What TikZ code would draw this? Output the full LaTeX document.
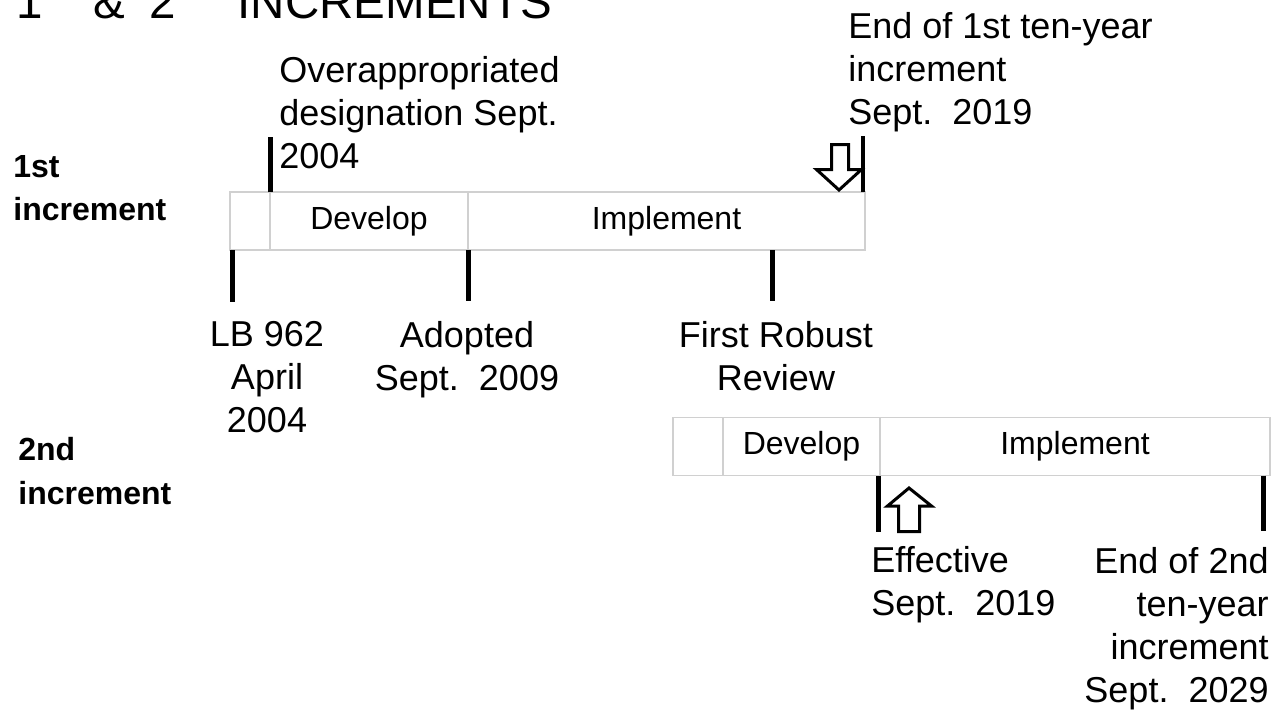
\documentclass[tikz,border=0pt]{standalone}
\usepackage{fontspec}
\setmainfont{Liberation Sans}
\usetikzlibrary{positioning}
\definecolor{boxgray}{RGB}{208,208,208}

\tikzset{
  phase/.style={draw=boxgray, line width=0.75pt, minimum height=29pt, inner sep=0pt, outer sep=0pt, font=\fontsize{16}{19}\selectfont},
  tick/.style={line width=2.5pt},
  event/.style={inner sep=0pt, font=\fontsize{18}{21.5}\selectfont},
  rowlabel/.style={inner sep=0pt, align=left, font=\fontsize{16}{21.75}\selectfont\bfseries},
  hollow/.style={draw, line width=1.5pt, fill=white, line join=miter},
}

\begin{document}
\begin{tikzpicture}[x=0.5pt, y=-0.5pt]
\useasboundingbox (0,0) rectangle (1286,713);

% title, cut off at the top
\node[anchor=base west, inner sep=0pt, font=\fontsize{23.75}{28}\selectfont] (title) at (16,18)
  {1\textsuperscript{st}\hspace{12pt}\&\hspace{12pt}2\textsuperscript{nd}\hspace{12pt}INCREMENTS};

% row labels
\node[rowlabel, anchor=north west] (first) at (13,155) {1st\\increment};
\node[rowlabel, anchor=north west] (second) at (18,437) {2nd\\increment};

% first increment
\node[phase, minimum width=20pt] (pre1) at (250,221) {};
\node[phase, minimum width=99pt, right=0pt of pre1] (dev1) {Develop};
\node[phase, minimum width=198.5pt, right=0pt of dev1] (imp1) {Implement};

% second increment
\node[phase, minimum width=25pt] (pre2) at (698,446.5) {};
\node[phase, minimum width=78.5pt, right=0pt of pre2] (dev2) {Develop};
\node[phase, minimum width=195pt, right=0pt of dev2] (imp2) {Implement};

% dates
\node[event, anchor=north west, align=left] (overapp) at (279,56) {Overappropriated\\designation Sept.\\2004};
\node[event, anchor=north west, align=left] (end1) at (848,12) {End of 1st ten-year\\increment\\Sept.\ \ 2019};
\node[event, anchor=north, align=center] (lb) at (267,321) {LB 962\\April\\2004};
\node[event, anchor=north, align=center] (adopt) at (467,321) {Adopted\\Sept.\ \ 2009};
\node[event, anchor=north, align=center] (review) at (776,321) {First Robust\\Review};
\node[event, anchor=north west, align=left] (eff) at (871,546) {Effective\\Sept.\ \ 2019};
\node[event, anchor=north east, align=right] (end2) at (1269,547) {End of 2nd\\ten-year\\increment\\Sept.\ \ 2029};

% block arrows
\draw[hollow] (839,190) -- (816.5,169.5) -- (831.5,169.5) -- (831.5,144.5) -- (848.5,144.5) -- (848.5,169.5) -- (861.5,169.5) -- cycle;
\draw[hollow] (909,488) -- (887.5,506) -- (898.5,506) -- (898.5,531.5) -- (919.5,531.5) -- (919.5,506) -- (931.5,506) -- cycle;

% ticks
\draw[tick] ([xshift=1.25pt]pre1.south west) -- ++(0,52);
\draw[tick] (dev1.north west) -- ++(0,-55);
\draw[tick] (dev1.south east) -- ++(0,51);
\coordinate (rev) at (772,250);
\draw[tick] (rev) -- ++(0,51);
\draw[tick, line width=2pt] ([xshift=-1pt]imp1.north east) -- ++(0,-56);
\draw[tick] ([xshift=-1pt]dev2.south east) -- ++(0,56);
\draw[tick] ([xshift=-3.5pt]imp2.south east) -- ++(0,55);
\end{tikzpicture}
\end{document}
